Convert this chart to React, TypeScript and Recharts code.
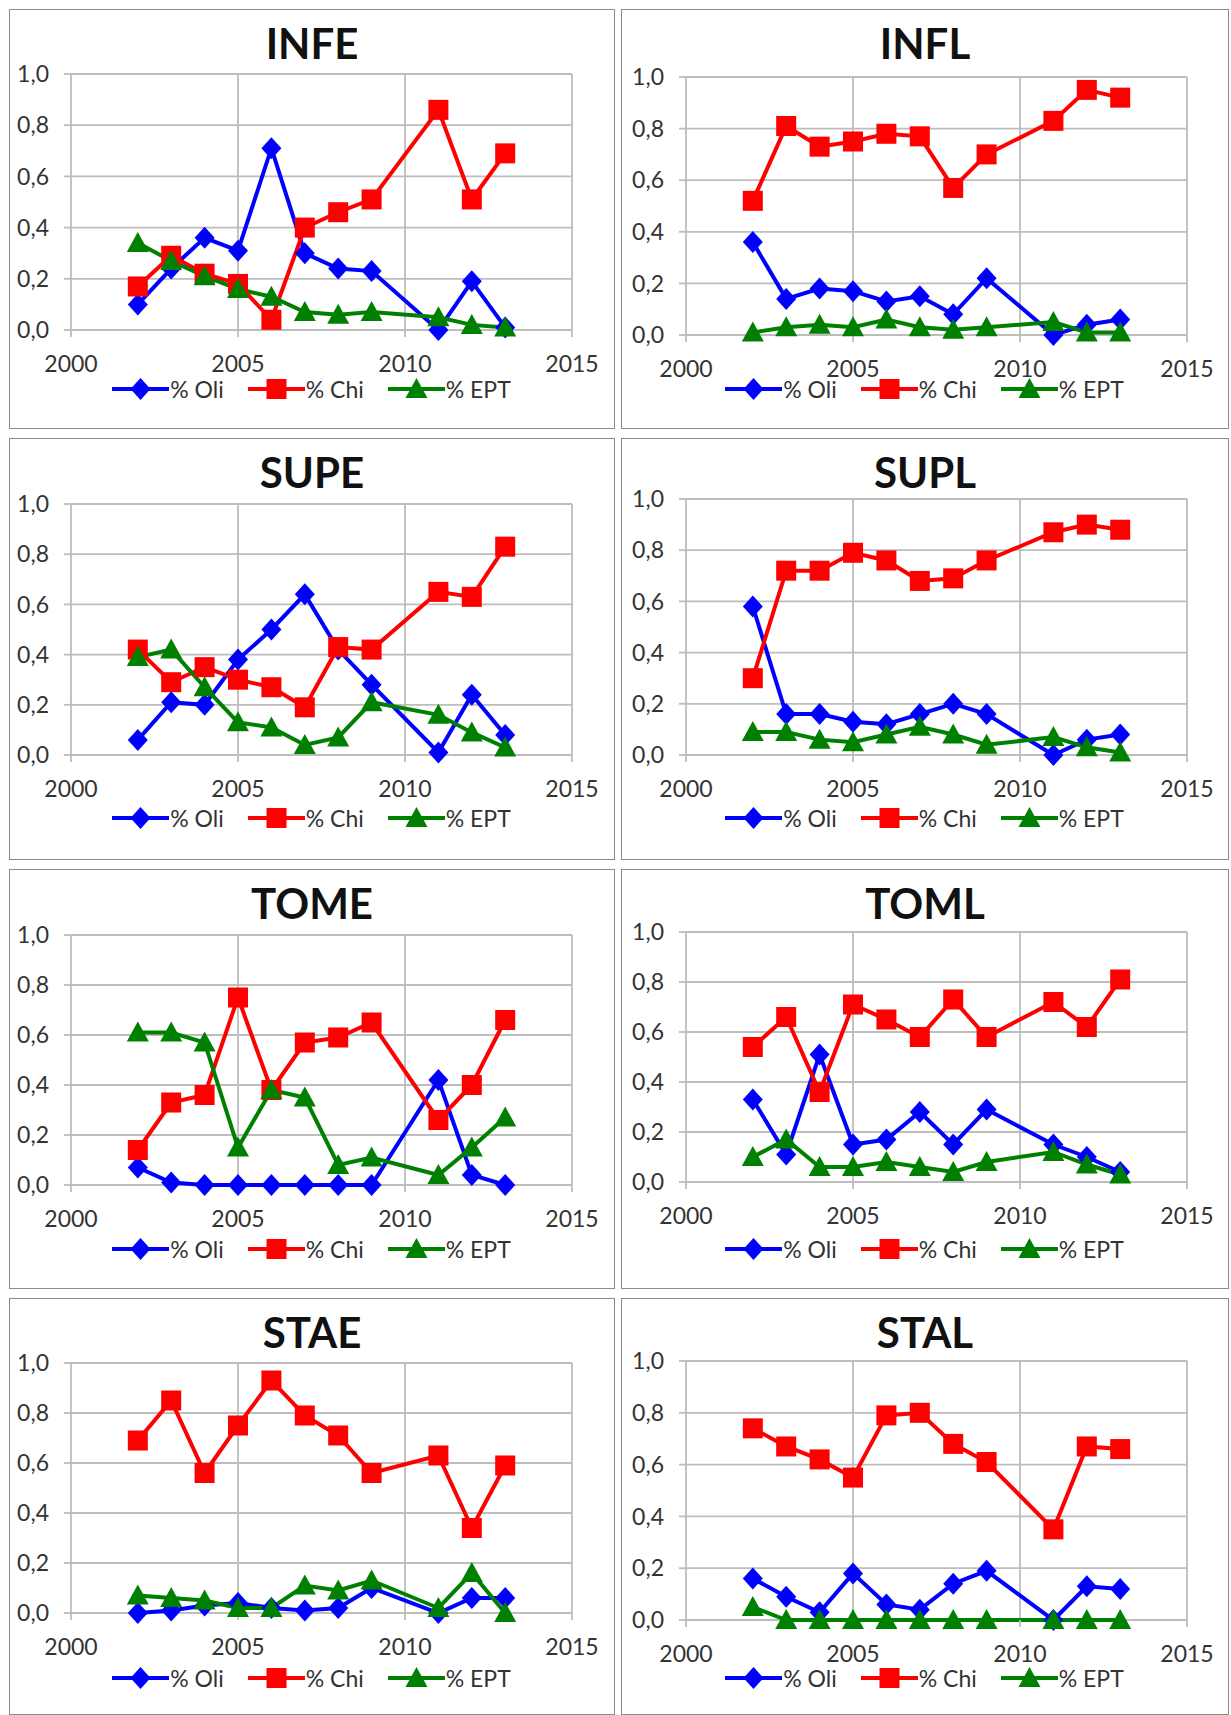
import React from 'react'
import { LineChart, Line, XAxis, YAxis, CartesianGrid, Legend } from 'recharts'

const years = [2002, 2003, 2004, 2005, 2006, 2007, 2008, 2009, 2011, 2012, 2013]
const xTicks = [2000, 2005, 2010, 2015]
const yTicks = [0, 0.2, 0.4, 0.6, 0.8, 1]

const infeOli = [0.1, 0.24, 0.36, 0.31, 0.71, 0.3, 0.24, 0.23, 0.0, 0.19, 0.01]
const infeChi = [0.17, 0.29, 0.22, 0.18, 0.04, 0.4, 0.46, 0.51, 0.86, 0.51, 0.69]
const infeEpt = [0.34, 0.27, 0.21, 0.16, 0.13, 0.07, 0.06, 0.07, 0.05, 0.02, 0.01]

const inflOli = [0.36, 0.14, 0.18, 0.17, 0.13, 0.15, 0.08, 0.22, 0.0, 0.04, 0.06]
const inflChi = [0.52, 0.81, 0.73, 0.75, 0.78, 0.77, 0.57, 0.7, 0.83, 0.95, 0.92]
const inflEpt = [0.01, 0.03, 0.04, 0.03, 0.06, 0.03, 0.02, 0.03, 0.05, 0.01, 0.01]

const supeOli = [0.06, 0.21, 0.2, 0.38, 0.5, 0.64, 0.42, 0.28, 0.01, 0.24, 0.08]
const supeChi = [0.42, 0.29, 0.35, 0.3, 0.27, 0.19, 0.43, 0.42, 0.65, 0.63, 0.83]
const supeEpt = [0.39, 0.42, 0.27, 0.13, 0.11, 0.04, 0.07, 0.21, 0.16, 0.09, 0.03]

const suplOli = [0.58, 0.16, 0.16, 0.13, 0.12, 0.16, 0.2, 0.16, 0.0, 0.06, 0.08]
const suplChi = [0.3, 0.72, 0.72, 0.79, 0.76, 0.68, 0.69, 0.76, 0.87, 0.9, 0.88]
const suplEpt = [0.09, 0.09, 0.06, 0.05, 0.08, 0.11, 0.08, 0.04, 0.07, 0.03, 0.01]

const tomeOli = [0.07, 0.01, 0.0, 0.0, 0.0, 0.0, 0.0, 0.0, 0.42, 0.04, 0.0]
const tomeChi = [0.14, 0.33, 0.36, 0.75, 0.38, 0.57, 0.59, 0.65, 0.26, 0.4, 0.66]
const tomeEpt = [0.61, 0.61, 0.57, 0.15, 0.38, 0.35, 0.08, 0.11, 0.04, 0.15, 0.27]

const tomlOli = [0.33, 0.11, 0.51, 0.15, 0.17, 0.28, 0.15, 0.29, 0.15, 0.1, 0.04]
const tomlChi = [0.54, 0.66, 0.36, 0.71, 0.65, 0.58, 0.73, 0.58, 0.72, 0.62, 0.81]
const tomlEpt = [0.1, 0.17, 0.06, 0.06, 0.08, 0.06, 0.04, 0.08, 0.12, 0.07, 0.03]

const staeOli = [0.0, 0.01, 0.03, 0.04, 0.02, 0.01, 0.02, 0.1, 0.0, 0.06, 0.06]
const staeChi = [0.69, 0.85, 0.56, 0.75, 0.93, 0.79, 0.71, 0.56, 0.63, 0.34, 0.59]
const staeEpt = [0.07, 0.06, 0.05, 0.02, 0.02, 0.11, 0.09, 0.13, 0.02, 0.16, 0.0]

const stalOli = [0.16, 0.09, 0.03, 0.18, 0.06, 0.04, 0.14, 0.19, 0.0, 0.13, 0.12]
const stalChi = [0.74, 0.67, 0.62, 0.55, 0.79, 0.8, 0.68, 0.61, 0.35, 0.67, 0.66]
const stalEpt = [0.05, 0.0, 0.0, 0.0, 0.0, 0.0, 0.0, 0.0, 0.0, 0.0, 0.0]

const series = [
  { key: 'oli', name: '% Oli', color: '#0000ff', shape: 'diamond' },
  { key: 'chi', name: '% Chi', color: '#ff0000', shape: 'square' },
  { key: 'ept', name: '% EPT', color: '#008000', shape: 'triangle' },
]

const panels = [
  { title: 'INFE', oli: infeOli, chi: infeChi, ept: infeEpt },
  { title: 'INFL', oli: inflOli, chi: inflChi, ept: inflEpt },
  { title: 'SUPE', oli: supeOli, chi: supeChi, ept: supeEpt },
  { title: 'SUPL', oli: suplOli, chi: suplChi, ept: suplEpt },
  { title: 'TOME', oli: tomeOli, chi: tomeChi, ept: tomeEpt },
  { title: 'TOML', oli: tomlOli, chi: tomlChi, ept: tomlEpt },
  { title: 'STAE', oli: staeOli, chi: staeChi, ept: staeEpt },
  { title: 'STAL', oli: stalOli, chi: stalChi, ept: stalEpt },
]

// box of each panel on the page, and the plot area top / zero line inside it
const layout = [
  { x: 9, y: 9, w: 606, h: 420, plotTop: 65, plotBottom: 321 },
  { x: 621, y: 9, w: 608, h: 420, plotTop: 68, plotBottom: 326 },
  { x: 9, y: 438, w: 606, h: 422, plotTop: 66, plotBottom: 317 },
  { x: 621, y: 438, w: 608, h: 422, plotTop: 61, plotBottom: 317 },
  { x: 9, y: 869, w: 606, h: 420, plotTop: 66, plotBottom: 316 },
  { x: 621, y: 869, w: 608, h: 420, plotTop: 63, plotBottom: 313 },
  { x: 9, y: 1298, w: 606, h: 417, plotTop: 65, plotBottom: 315 },
  { x: 621, y: 1298, w: 608, h: 417, plotTop: 63, plotBottom: 322 },
]

const FONT = 'Lato, "Open Sans", sans-serif'
const GRID = '#bdbdbd'

const Marker = ({ shape, cx, cy, color }: any) => {
  if (cx == null || cy == null) return null
  if (shape === 'diamond') {
    return <path d={`M${cx},${cy - 11}L${cx + 10},${cy}L${cx},${cy + 11}L${cx - 10},${cy}Z`} fill={color} />
  }
  if (shape === 'square') {
    return <rect x={cx - 10} y={cy - 10} width={20} height={20} fill={color} />
  }
  return <path d={`M${cx},${cy - 11}L${cx + 11},${cy + 9}L${cx - 11},${cy + 9}Z`} fill={color} />
}

const LegendBox = () => (
  <div style={{ display: 'flex', justifyContent: 'center', alignItems: 'center', fontFamily: FONT, fontSize: 23, color: '#333', height: 28 }}>
    {series.map((s, i) => (
      <div key={s.key} style={{ display: 'flex', alignItems: 'center', marginLeft: i === 0 ? 0 : 24 }}>
        <svg width={57} height={24}>
          <line x1={0} y1={12} x2={57} y2={12} stroke={s.color} strokeWidth={4} />
          <Marker shape={s.shape} cx={28.5} cy={12} color={s.color} />
        </svg>
        <span style={{ marginLeft: 1 }}>{s.name}</span>
      </div>
    ))}
  </div>
)

const fmt = (v: number) => v.toFixed(1).replace('.', ',')

const Panel = ({ p, g, col }: any) => {
  const data = years.map((yr, i) => ({ year: yr, oli: p.oli[i], chi: p.chi[i], ept: p.ept[i] }))
  const plotLeft = col === 0 ? 62 : 65
  const plotWidth = 501
  const xAxisHeight = 40
  return (
    <div style={{ position: 'absolute', left: g.x, top: g.y, width: g.w, height: g.h, boxSizing: 'border-box', border: '1.5px solid #8a8a8a', background: '#fff' }}>
      <div style={{ position: 'absolute', left: 0, top: 12, width: '100%', textAlign: 'center', fontFamily: FONT, fontWeight: 700, fontSize: 42, lineHeight: '42px', color: '#111' }}>
        {p.title}
      </div>
      <div style={{ position: 'absolute', left: -1.5, top: -1.5 }}>
        <LineChart
          width={g.w}
          height={g.h}
          data={data}
          margin={{ top: g.plotTop, left: 0, right: g.w - plotLeft - plotWidth, bottom: g.h - g.plotBottom - xAxisHeight }}
        >
          <CartesianGrid stroke={GRID} strokeWidth={1.8} />
          <XAxis
            dataKey="year"
            type="number"
            domain={[2000, 2015]}
            ticks={xTicks}
            height={xAxisHeight}
            axisLine={false}
            tickLine={{ stroke: GRID, strokeWidth: 1.8 }}
            tickSize={7}
            tickMargin={19}
            tick={{ fontSize: 23, fill: '#333', fontFamily: FONT }}
          />
          <YAxis
            type="number"
            domain={[0, 1]}
            ticks={yTicks}
            width={plotLeft}
            axisLine={false}
            tickLine={{ stroke: GRID, strokeWidth: 1.8 }}
            tickSize={7}
            tickMargin={15}
            tickFormatter={fmt}
            tick={{ fontSize: 23, fill: '#333', fontFamily: FONT }}
          />
          {series.map((s) => (
            <Line
              key={s.key}
              dataKey={s.key}
              name={s.name}
              stroke={s.color}
              strokeWidth={4}
              isAnimationActive={false}
              dot={(props: any) => <Marker key={`${s.key}-${props.index}`} shape={s.shape} cx={props.cx} cy={props.cy} color={s.color} />}
              activeDot={false}
            />
          ))}
          <Legend
            verticalAlign="middle"
            align="center"
            layout="horizontal"
            wrapperStyle={{ top: 366, left: 0, width: g.w }}
            content={() => <LegendBox />}
          />
        </LineChart>
      </div>
    </div>
  )
}

const App = () => {
  return (
    <div style={{ position: 'absolute', left: 0, top: 0, width: 1231, height: 1715, background: '#fff', overflow: 'hidden' }}>
      {panels.map((p, i) => (
        <Panel key={p.title} p={p} g={layout[i]} col={i % 2} />
      ))}
    </div>
  )
}

export default App
